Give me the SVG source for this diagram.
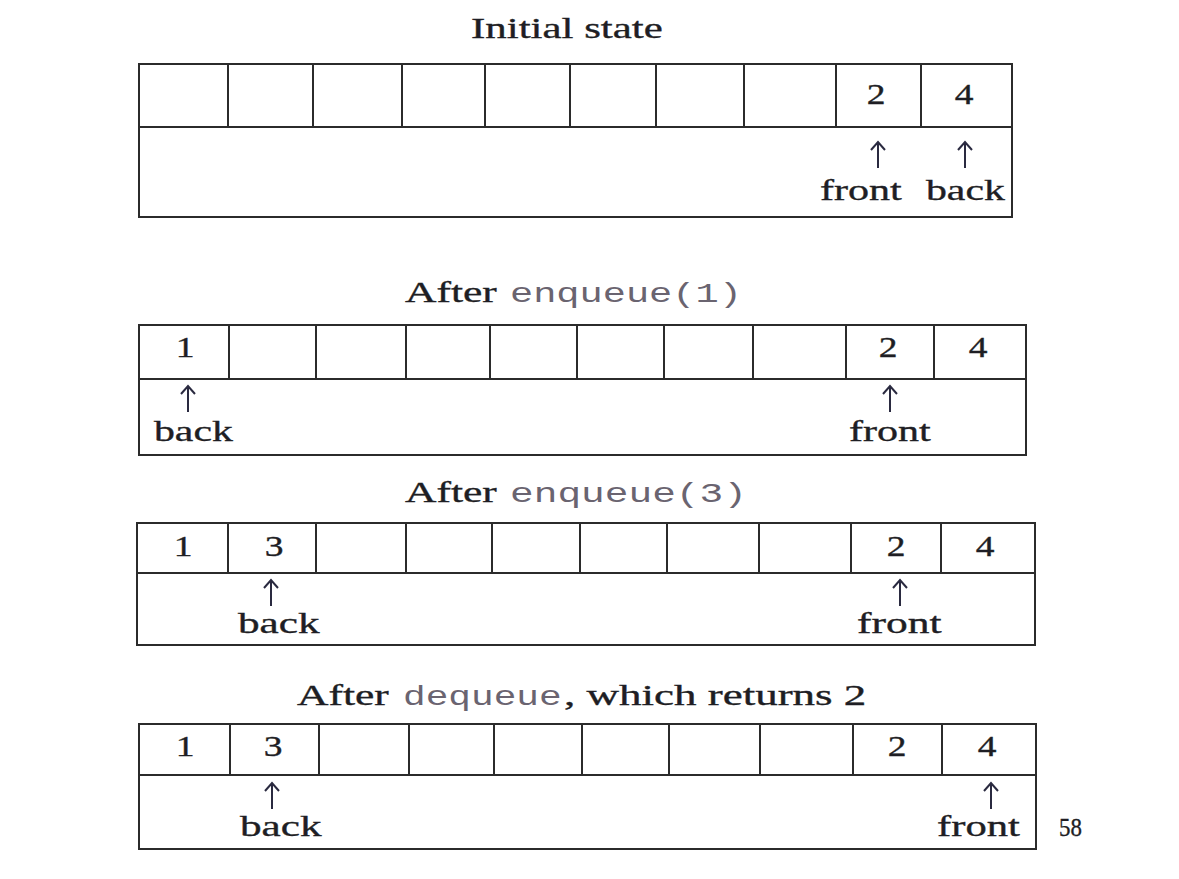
<svg xmlns="http://www.w3.org/2000/svg" width="1179" height="879" viewBox="0 0 1179 879">
<style>
.box{fill:none;stroke:#2b2b2b;stroke-width:2}
.t{font-family:"Liberation Serif","Times New Roman",serif;fill:#1e1e24;stroke:#1e1e24;stroke-width:0.35}
.ttl{font-size:30px}
.mono{font-family:"Liberation Mono","Courier New",monospace;font-size:28px;fill:#6a6470}
.num{font-size:30px;text-anchor:middle}
.lbl{font-size:29px}
.arr{fill:none;stroke:#2a2a40;stroke-width:2}
</style>
<defs>
<path id="up" d="M0,0 V-26 M-7,-18 L0,-26 L7,-18"/>
</defs>
<rect width="1179" height="879" fill="#fff"/>

<g id="panel1">
<text class="t ttl" transform="translate(471,38) scale(1.43,1)">Initial state</text>
<rect class="box" x="139" y="64" width="873" height="153"/>
<path class="box" d="M139,127H1012 M228,64V127 M313,64V127 M402,64V127 M485,64V127 M570,64V127 M656,64V127 M744,64V127 M836,64V127 M921,64V127"/>
<text class="t num" transform="translate(876,104) scale(1.25,1)">2</text>
<text class="t num" transform="translate(964,104) scale(1.25,1)">4</text>
<use href="#up" class="arr" x="878" y="168"/>
<use href="#up" class="arr" x="965" y="168"/>
<text class="t lbl" transform="translate(820,200) scale(1.45,1)">front</text>
<text class="t lbl" transform="translate(926,200) scale(1.44,1)">back</text>
</g>

<g id="panel2">
<text class="t ttl" transform="translate(405,302) scale(1.45,1)">After</text>
<text class="mono" transform="translate(510,302) scale(1.38,1)">enqueue(1)</text>
<rect class="box" x="139" y="325" width="887" height="130"/>
<path class="box" d="M139,379H1026 M229,325V379 M316,325V379 M406,325V379 M490,325V379 M577,325V379 M664,325V379 M753,325V379 M846,325V379 M934,325V379"/>
<text class="t num" transform="translate(185,357) scale(1.25,1)">1</text>
<text class="t num" transform="translate(888,357) scale(1.25,1)">2</text>
<text class="t num" transform="translate(978,357) scale(1.25,1)">4</text>
<use href="#up" class="arr" x="188" y="412"/>
<use href="#up" class="arr" x="890" y="412"/>
<text class="t lbl" transform="translate(154,441) scale(1.44,1)">back</text>
<text class="t lbl" transform="translate(849,441) scale(1.45,1)">front</text>
</g>

<g id="panel3">
<text class="t ttl" transform="translate(405,502) scale(1.45,1)">After</text>
<text class="mono" transform="translate(510,502) scale(1.41,1)">enqueue(3)</text>
<rect class="box" x="137" y="523" width="898" height="122"/>
<path class="box" d="M137,573H1035 M228,523V573 M316,523V573 M406,523V573 M492,523V573 M580,523V573 M667,523V573 M759,523V573 M851,523V573 M941,523V573"/>
<text class="t num" transform="translate(183,556) scale(1.25,1)">1</text>
<text class="t num" transform="translate(274,556) scale(1.25,1)">3</text>
<text class="t num" transform="translate(896,556) scale(1.25,1)">2</text>
<text class="t num" transform="translate(985,556) scale(1.25,1)">4</text>
<use href="#up" class="arr" x="271" y="606"/>
<use href="#up" class="arr" x="900" y="606"/>
<text class="t lbl" transform="translate(238,633) scale(1.49,1)">back</text>
<text class="t lbl" transform="translate(857,633) scale(1.5,1)">front</text>
</g>

<g id="panel4">
<text class="t ttl" transform="translate(297,705) scale(1.45,1)">After</text>
<text class="mono" transform="translate(403,705) scale(1.35,1)">dequeue</text>
<text class="t ttl" transform="translate(564,705) scale(1.5,1)">, which returns 2</text>
<rect class="box" x="139" y="724" width="897" height="125"/>
<path class="box" d="M139,775H1036 M230,724V775 M319,724V775 M409,724V775 M494,724V775 M582,724V775 M669,724V775 M760,724V775 M853,724V775 M942,724V775"/>
<text class="t num" transform="translate(185,756) scale(1.25,1)">1</text>
<text class="t num" transform="translate(273,756) scale(1.25,1)">3</text>
<text class="t num" transform="translate(897,756) scale(1.25,1)">2</text>
<text class="t num" transform="translate(987,756) scale(1.25,1)">4</text>
<use href="#up" class="arr" x="272" y="809"/>
<use href="#up" class="arr" x="991" y="809"/>
<text class="t lbl" transform="translate(240,836) scale(1.49,1)">back</text>
<text class="t lbl" transform="translate(937,836) scale(1.47,1)">front</text>
</g>

<text class="t" font-size="26" transform="translate(1059,836) scale(0.88,1)">58</text>
</svg>
